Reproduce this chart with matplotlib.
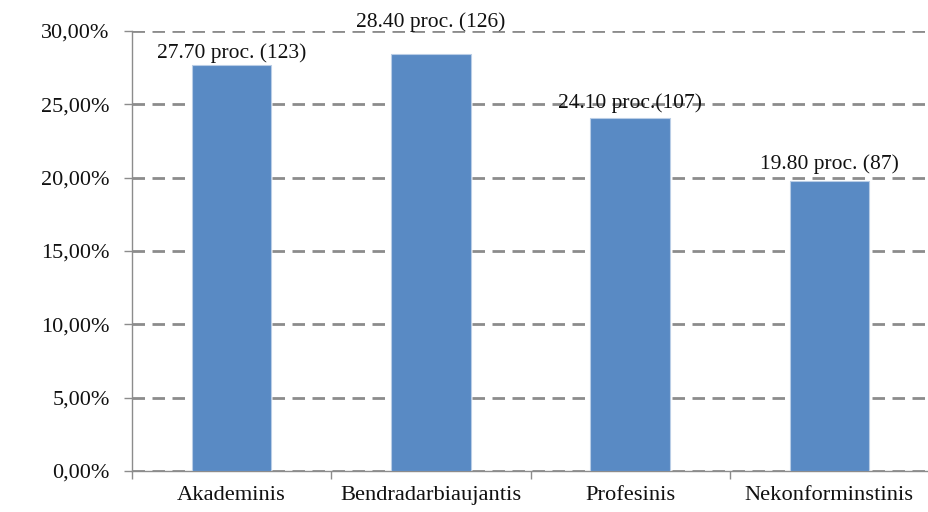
import matplotlib
matplotlib.use("Agg")
import matplotlib.pyplot as plt
from matplotlib.ticker import FuncFormatter

categories = ["Akademinis", "Bendradarbiaujantis", "Profesinis", "Nekonforminstinis"]
values = [27.70, 28.40, 24.10, 19.80]
labels = ["27.70 proc. (123)", "28.40 proc. (126)", "24.10 proc.(107)", "19.80 proc. (87)"]
yticks = [0, 5, 10, 15, 20, 25, 30]

# label vertical offsets above bar tops (points) - styling only
label_offsets = [1, 16, 3, 5]

plt.rcParams['font.family'] = ['Liberation Serif', 'DejaVu Serif']

fig = plt.figure(figsize=(9.29, 5.12), dpi=100)
ax = fig.add_axes([132/929, 41/512, 1 - 132/929, 440/512])

x = list(range(len(categories)))
ax.bar(x, values, width=0.4, color="#598AC4", edgecolor="#B9CDE6", linewidth=0.8, zorder=3)

for xi, v, lab, off in zip(x, values, labels, label_offsets):
    ax.annotate(lab, (xi, v), xytext=(0, off), textcoords="offset points",
                ha="center", va="bottom", fontsize=15.5, color="#111111", zorder=4)

ax.set_xlim(-0.5, 3.5)
ax.set_ylim(0, 30)
ax.set_yticks(yticks)
ax.yaxis.set_major_formatter(FuncFormatter(lambda v, p: f"{v:.2f}".replace(".", ",") + "%"))
ax.yaxis.grid(True, linestyle=(0, (4.5, 2.7)), color="#8C8C8C", linewidth=2, zorder=0)
ax.set_axisbelow(True)

ax.set_xticks(x)
ax.set_xticklabels(categories)
ax.set_xticks([-0.5, 0.5, 1.5, 2.5, 3.5], minor=True)
ax.tick_params(axis="x", which="major", length=0, pad=11, labelsize=16.2, colors="#111111")
ax.tick_params(axis="x", which="minor", length=6, color="#8C8C8C", width=1)
ax.tick_params(axis="y", length=6, color="#8C8C8C", width=1, labelsize=16, labelcolor="#111111", pad=10)

for s in ["top", "right"]:
    ax.spines[s].set_visible(False)
for s in ["left", "bottom"]:
    ax.spines[s].set_color("#8C8C8C")
    ax.spines[s].set_linewidth(1)

fig.savefig("out.png", dpi=100)
